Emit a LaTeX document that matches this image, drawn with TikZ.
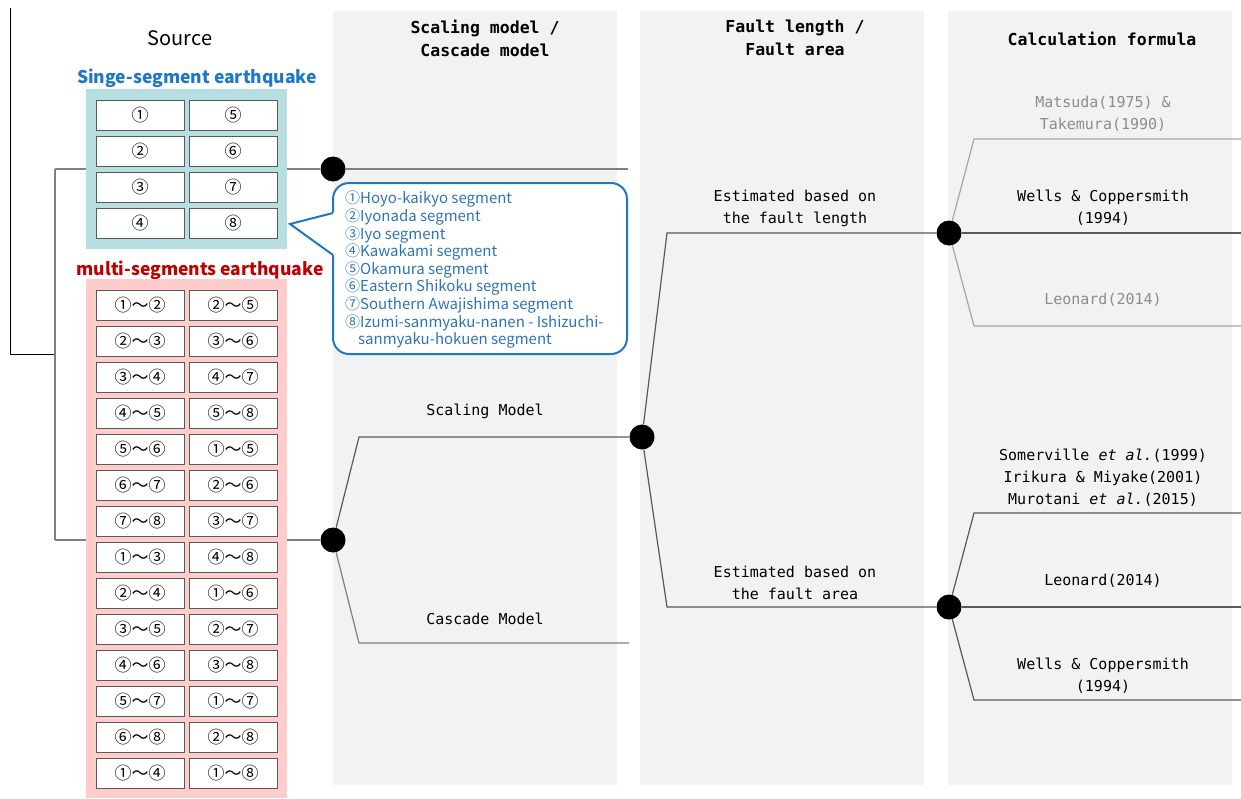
\documentclass[tikz,border=0pt]{standalone}
\usepackage{fontspec}
\setmainfont{Noto Sans CJK JP}
\newfontfamily\cjk{Noto Sans CJK JP}
\newfontfamily\mono{DejaVu Sans Mono}
\definecolor{panelgray}{HTML}{F2F2F2}
\definecolor{tealbg}{HTML}{B7DEE1}
\definecolor{pinkbg}{HTML}{FFCCCC}
\definecolor{hblue}{HTML}{1F77C8}
\definecolor{cblue}{HTML}{2E75B6}
\definecolor{hred}{HTML}{C00000}
\definecolor{lgray}{HTML}{8C8C8C}
\definecolor{dline}{HTML}{595959}
\definecolor{mline}{HTML}{808080}
\definecolor{lline}{HTML}{A6A6A6}
\begin{document}
\begin{tikzpicture}[x=1pt,y=-1pt,
  seg/.style={draw=black!65, line width=1pt, fill=white, minimum width=88pt, minimum height=30pt, inner sep=0pt, font=\cjk\fontsize{17}{19}\selectfont},
  dot/.style={circle, fill=black, minimum size=25pt, inner sep=0pt},
  ln/.style={draw=dline, line width=1.2pt},
  lnm/.style={draw=mline, line width=1.2pt},
  lnl/.style={draw=lline, line width=1.2pt},
  lbl/.style={font=\mono\fontsize{15}{22}\selectfont, align=center},
  hdr/.style={font=\mono\bfseries\fontsize{16.5}{23}\selectfont, align=center},
  callout/.style={draw=hblue, line width=2pt}
]
\useasboundingbox (0,0) rectangle (1241,798);
% panels
\fill[panelgray] (333,11) rectangle (617,785);
\fill[panelgray] (640,11) rectangle (924,785);
\fill[panelgray] (948,11) rectangle (1232,785);

% headers
\node[font=\cjk\fontsize{20}{24}\selectfont] (src) at (180,38) {Source};
\node[hdr] (h2) at (485,38) {Scaling model /\\Cascade model};
\node[hdr] (h3) at (795,38) {Fault length /\\Fault area};
\node[hdr] (h4) at (1102,39) {Calculation formula};

% dots
\node[dot] (A) at (333,169) {};
\node[dot] (B) at (333,540) {};
\node[dot] (C) at (642,437) {};
\node[dot] (D) at (949,233) {};
\node[dot] (E) at (949,607) {};

% coordinates
\coordinate (L0) at (10,8);
\coordinate (L1) at (10,354);
\coordinate (L2) at (55,354);
\coordinate (V1) at (55,169);
\coordinate (V2) at (55,540);
\coordinate (Aend) at (628,169);
\coordinate (b1) at (359,437);
\coordinate (b2) at (359,643);
\coordinate (Bend) at (629,643);
\coordinate (c1) at (667,233);
\coordinate (c2) at (667,607);
\coordinate (d1) at (974,139);
\coordinate (d1e) at (1241,139);
\coordinate (dme) at (1241,233);
\coordinate (d2) at (974,326);
\coordinate (d2e) at (1241,326);
\coordinate (e1) at (974,513);
\coordinate (e1e) at (1241,513);
\coordinate (eme) at (1241,607);
\coordinate (e2) at (974,700);
\coordinate (e2e) at (1241,700);

% lines
\draw[black, line width=1pt] (L0) -- (L1) -- (L2);
\draw[lnm] (V1) -- (V2);
\draw[lnm] (V1) -- (A);
\draw[lnm] (A) -- (Aend);
\draw[lnm] (V2) -- (B);
\draw[ln] (B) -- (b1) -- (C);
\draw[lnm] (B) -- (b2) -- (Bend);
\draw[ln] (C) -- (c1) -- (D);
\draw[ln] (C) -- (c2) -- (E);
\draw[lnl] (D) -- (d1) -- (d1e);
\draw[ln] (D) -- (dme);
\draw[lnl] (D) -- (d2) -- (d2e);
\draw[ln] (E) -- (e1) -- (e1e);
\draw[ln] (E) -- (eme);
\draw[ln] (E) -- (e2) -- (e2e);

% source groups
\node[font=\cjk\bfseries\fontsize{17.5}{20}\selectfont, text=hblue] (single) at (197,78) {Singe-segment earthquake};
\node[font=\cjk\bfseries\fontsize{17.5}{20}\selectfont, text=hred] (multi) at (200,270) {multi-segments earthquake};
\fill[tealbg] (86,89) rectangle (287,249);
\fill[pinkbg] (86,279) rectangle (287,798);

\foreach \t [count=\i from 0] in {①,②,③,④} {
  \node[seg] (s1-\i) at (140,115+36*\i) {\t};
}
\foreach \t [count=\i from 0] in {⑤,⑥,⑦,⑧} {
  \node[seg] (s2-\i) at (233,115+36*\i) {\t};
}
\foreach \t [count=\i from 0] in {①～②,②～③,③～④,④～⑤,⑤～⑥,⑥～⑦,⑦～⑧,①～③,②～④,③～⑤,④～⑥,⑤～⑦,⑥～⑧,①～④} {
  \node[seg] (m1-\i) at (140,305+36*\i) {\t};
}
\foreach \t [count=\i from 0] in {②～⑤,③～⑥,④～⑦,⑤～⑧,①～⑤,②～⑥,③～⑦,④～⑧,①～⑥,②～⑦,③～⑧,①～⑦,②～⑧,①～⑧} {
  \node[seg] (m2-\i) at (233,305+36*\i) {\t};
}

% callout
\draw[callout, fill=white, rounded corners=16pt] (333,183) rectangle (627,354);
\fill[white] (335,212) -- (290,224) -- (335,256) -- cycle;
\draw[callout, line join=miter] (333,213) -- (290,224) -- (333,255);
\node[anchor=north west, align=left, inner sep=0pt, text=cblue, font=\cjk\fontsize{15}{17.6}\selectfont] (ctext) at (345,191)
{①Hoyo-kaikyo segment\\②Iyonada segment\\③Iyo segment\\④Kawakami segment\\⑤Okamura segment\\⑥Eastern Shikoku segment\\⑦Southern Awajishima segment\\⑧Izumi-sanmyaku-nanen - Ishizuchi-\\\hspace*{13pt}sanmyaku-hokuen segment};

% labels
\node[lbl] (lsc) at (485,411) {Scaling Model};
\node[lbl] (lca) at (485,619) {Cascade Model};
\node[lbl] (lfl) at (795,208) {Estimated based on\\the fault length};
\node[lbl] (lfa) at (795,583) {Estimated based on\\the fault area};
\node[lbl, text=lgray] (f1) at (1103,114) {Matsuda(1975) \&\\Takemura(1990)};
\node[lbl] (f2) at (1103,208) {Wells \& Coppersmith\\(1994)};
\node[lbl, text=lgray] (f3) at (1103,300) {Leonard(2014)};
\node[lbl] (f4) at (1103,478) {Somerville \textit{et al.}(1999)\\Irikura \& Miyake(2001)\\Murotani \textit{et al.}(2015)};
\node[lbl] (f5) at (1103,581) {Leonard(2014)};
\node[lbl] (f6) at (1103,676) {Wells \& Coppersmith\\(1994)};
\end{tikzpicture}
\end{document}
